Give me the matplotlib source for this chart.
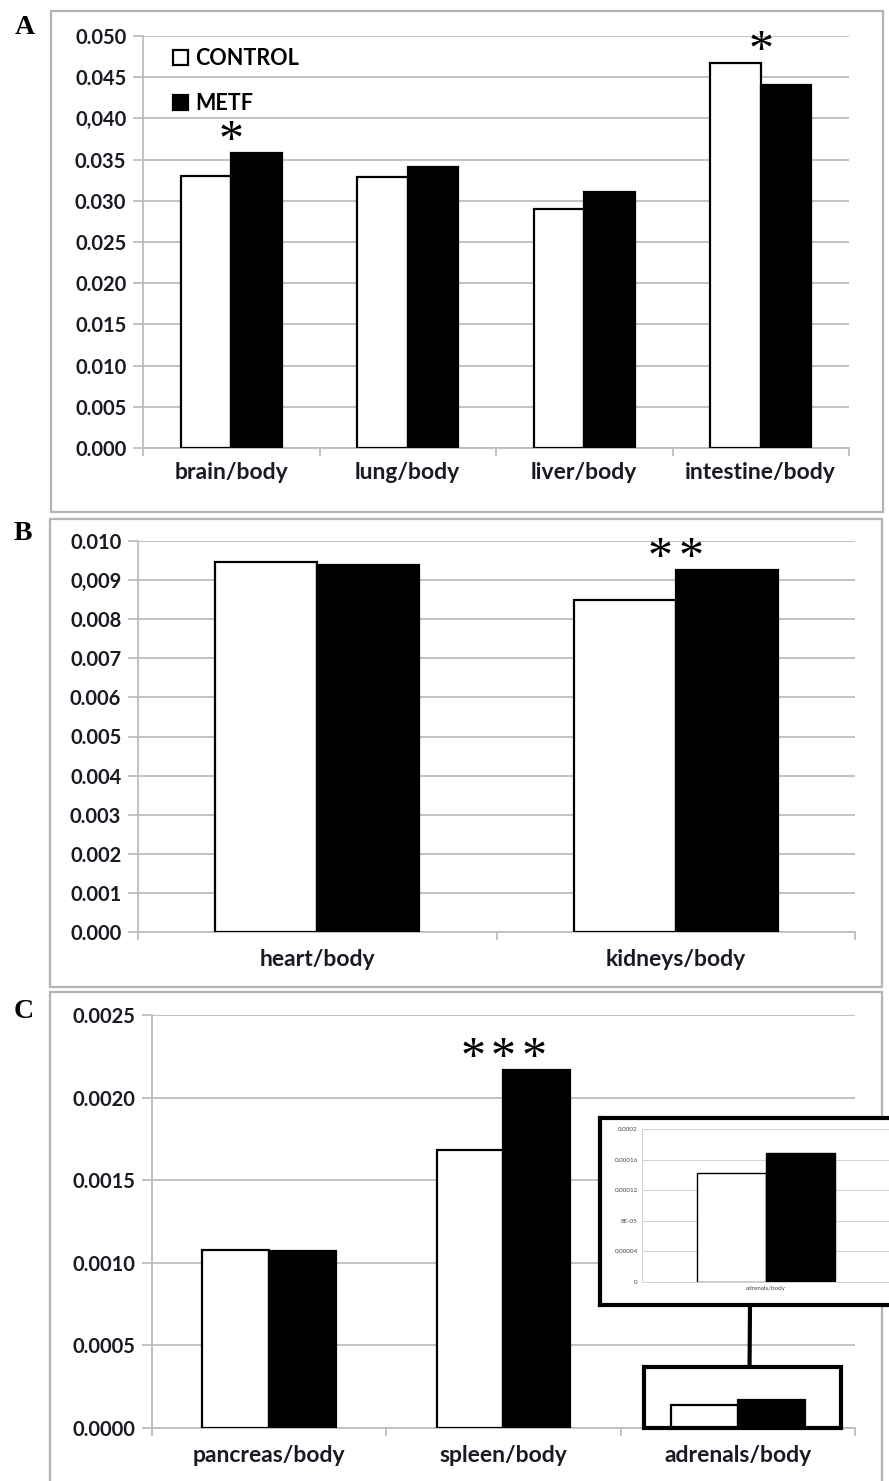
import numpy as np
import matplotlib.pyplot as plt
from matplotlib.patches import Rectangle, ConnectionPatch

plt.rcParams['font.family'] = ['Lato', 'DejaVu Sans']
plt.rcParams['font.weight'] = 'bold'

W, H = 889, 1481

groups = ['CONTROL', 'METF']

# panel A
cats_a = ['brain/body', 'lung/body', 'liver/body', 'intestine/body']
control_a = [0.0330, 0.0329, 0.0290, 0.0467]
metf_a = [0.0358, 0.0341, 0.0311, 0.0441]
stars_a = [1, 0, 0, 1]
ticks_a = ['0.000', '0.005', '0.010', '0.015', '0.020', '0.025',
           '0.030', '0.035', '0,040', '0.045', '0.050']

# panel B
cats_b = ['heart/body', 'kidneys/body']
control_b = [0.00946, 0.00849]
metf_b = [0.00939, 0.00926]
stars_b = [0, 2]
ticks_b = ['0.000', '0.001', '0.002', '0.003', '0.004', '0.005',
           '0.006', '0.007', '0.008', '0,009', '0.010']

# panel C
cats_c = ['pancreas/body', 'spleen/body', 'adrenals/body']
control_c = [0.00108, 0.00168, 0.000142]
metf_c = [0.00107, 0.00217, 0.000169]
stars_c = [0, 3, 0]
ticks_c = ['0.0000', '0.0005', '0.0010', '0.0015', '0.0020', '0.0025']

# zoomed adrenals inset
inset_ticks = ['0', '0.00004', '8E-05', '0.00012', '0.00016', '0.0002']

grid_c = '#bdbdbd'
txt_c = '#1a1a24'


def rect(x0, y0, x1, y1):
    # pixel box (top-left origin) -> figure fraction
    return [x0 / W, 1 - y1 / H, (x1 - x0) / W, (y1 - y0) / H]


fig = plt.figure(figsize=(W / 100, H / 100), dpi=100)

# grey panel frames
for x0, y0, x1, y1 in [(51, 11, 883, 512), (50, 519, 882, 987), (50, 992, 882, 1495)]:
    fig.add_artist(Rectangle((x0 / W, 1 - y1 / H), (x1 - x0) / W, (y1 - y0) / H,
                             transform=fig.transFigure, fill=False,
                             ec='#b4b4b4', lw=1.6))

for lab, (x, y) in zip('ABC', [(25, 28), (23, 533), (24, 1011)]):
    fig.text(x / W, 1 - y / H, lab, ha='center', va='center', fontsize=20,
             family='Liberation Serif', weight='bold')


def bar_panel(box, cats, ctrl, metf, stars, ticklabels, step, xpad):
    ax = fig.add_axes(rect(*box))
    x = np.arange(len(cats))
    bw = 0.285
    ax.bar(x - bw / 2, ctrl, bw, color='white', edgecolor='black', lw=1.6,
           label=groups[0], zorder=3)
    ax.bar(x + bw / 2, metf, bw, color='black', edgecolor='black', lw=1.6,
           label=groups[1], zorder=3)
    yt = np.arange(len(ticklabels)) * step
    ax.set_ylim(0, yt[-1])
    ax.set_yticks(yt)
    ax.set_yticklabels(ticklabels, fontsize=14.5, color=txt_c)
    ax.set_xlim(-0.5, len(cats) - 0.5)
    ax.set_xticks(x)
    ax.set_xticklabels(cats, fontsize=16.5, color=txt_c)
    ax.set_xticks(np.arange(len(cats) + 1) - 0.5, minor=True)
    ax.tick_params(axis='x', which='major', length=0, pad=xpad)
    ax.tick_params(axis='x', which='minor', length=6, color=grid_c, width=1.3)
    ax.tick_params(axis='y', length=7, color=grid_c, width=1.3, pad=5)
    ax.grid(axis='y', color=grid_c, lw=1.3, zorder=0)
    ax.set_axisbelow(True)
    for s in ['top', 'right']:
        ax.spines[s].set_visible(False)
    for s in ['left', 'bottom']:
        ax.spines[s].set_color(grid_c)
        ax.spines[s].set_linewidth(1.3)
    # significance asterisks, one glyph each, ~30 px apart
    for xi, n, c, m in zip(x, stars, ctrl, metf):
        for k in range(n):
            dx = (k - (n - 1) / 2) * 22
            ax.annotate('*', (xi, max(c, m)), xytext=(dx, 8),
                        textcoords='offset points', ha='center', va='center',
                        fontsize=36, family='Liberation Serif', weight='normal')
    return ax


axA = bar_panel((143, 36, 849, 448), cats_a, control_a, metf_a, stars_a,
                ticks_a, 0.005, 10)
axA.legend(loc='upper left', bbox_to_anchor=(0.042, 0.97), frameon=False,
           handlelength=0.7, handleheight=0.7, handletextpad=0.35,
           labelspacing=1.1, fontsize=15.5, borderpad=0, borderaxespad=0)

axB = bar_panel((138, 541, 855, 932), cats_b, control_b, metf_b, stars_b,
                ticks_b, 0.001, 12)

axC = bar_panel((152, 1015, 855, 1428), cats_c, control_c, metf_c, stars_c,
                ticks_c, 0.0005, 12)

# highlight box around adrenals bars in panel C
axC.add_patch(Rectangle((2 - 0.40, 0), 0.84, 0.00037, fill=False, ec='black',
                        lw=3, zorder=5, clip_on=False))

# inset frame
box = fig.add_axes(rect(600, 1118, 905, 1305), zorder=5)
box.set_xticks([])
box.set_yticks([])
for s in box.spines.values():
    s.set_color('black')
    s.set_linewidth(3)

ins = fig.add_axes(rect(642, 1129, 890, 1282), zorder=6)
ins.patch.set_alpha(0)
ins.bar([-0.14], [control_c[2]], 0.28, color='white', edgecolor='black', lw=1)
ins.bar([0.14], [metf_c[2]], 0.28, color='black', edgecolor='black', lw=1)
ins.set_xlim(-0.5, 0.5)
ins.set_ylim(0, 0.0002)
ins.set_yticks(np.arange(len(inset_ticks)) * 0.00004)
ins.set_yticklabels(inset_ticks, fontsize=4.5, weight='normal', color='#444')
ins.set_xticks([0])
ins.set_xticklabels([cats_c[2]], fontsize=4.5, weight='normal', color='#444')
ins.tick_params(axis='both', length=0, pad=3)
ins.grid(axis='y', color='#d0d0d0', lw=0.7)
ins.set_axisbelow(True)
for s in ['top', 'right']:
    ins.spines[s].set_visible(False)
for s in ['left', 'bottom']:
    ins.spines[s].set_color('#d0d0d0')
    ins.spines[s].set_linewidth(0.7)

con = ConnectionPatch(xyA=(2.05, 0.00037), coordsA=axC.transData,
                      xyB=((750 - 600) / 305, 0), coordsB=box.transAxes,
                      color='black', lw=3, zorder=4)
fig.add_artist(con)

fig.savefig('out.png', dpi=100)
